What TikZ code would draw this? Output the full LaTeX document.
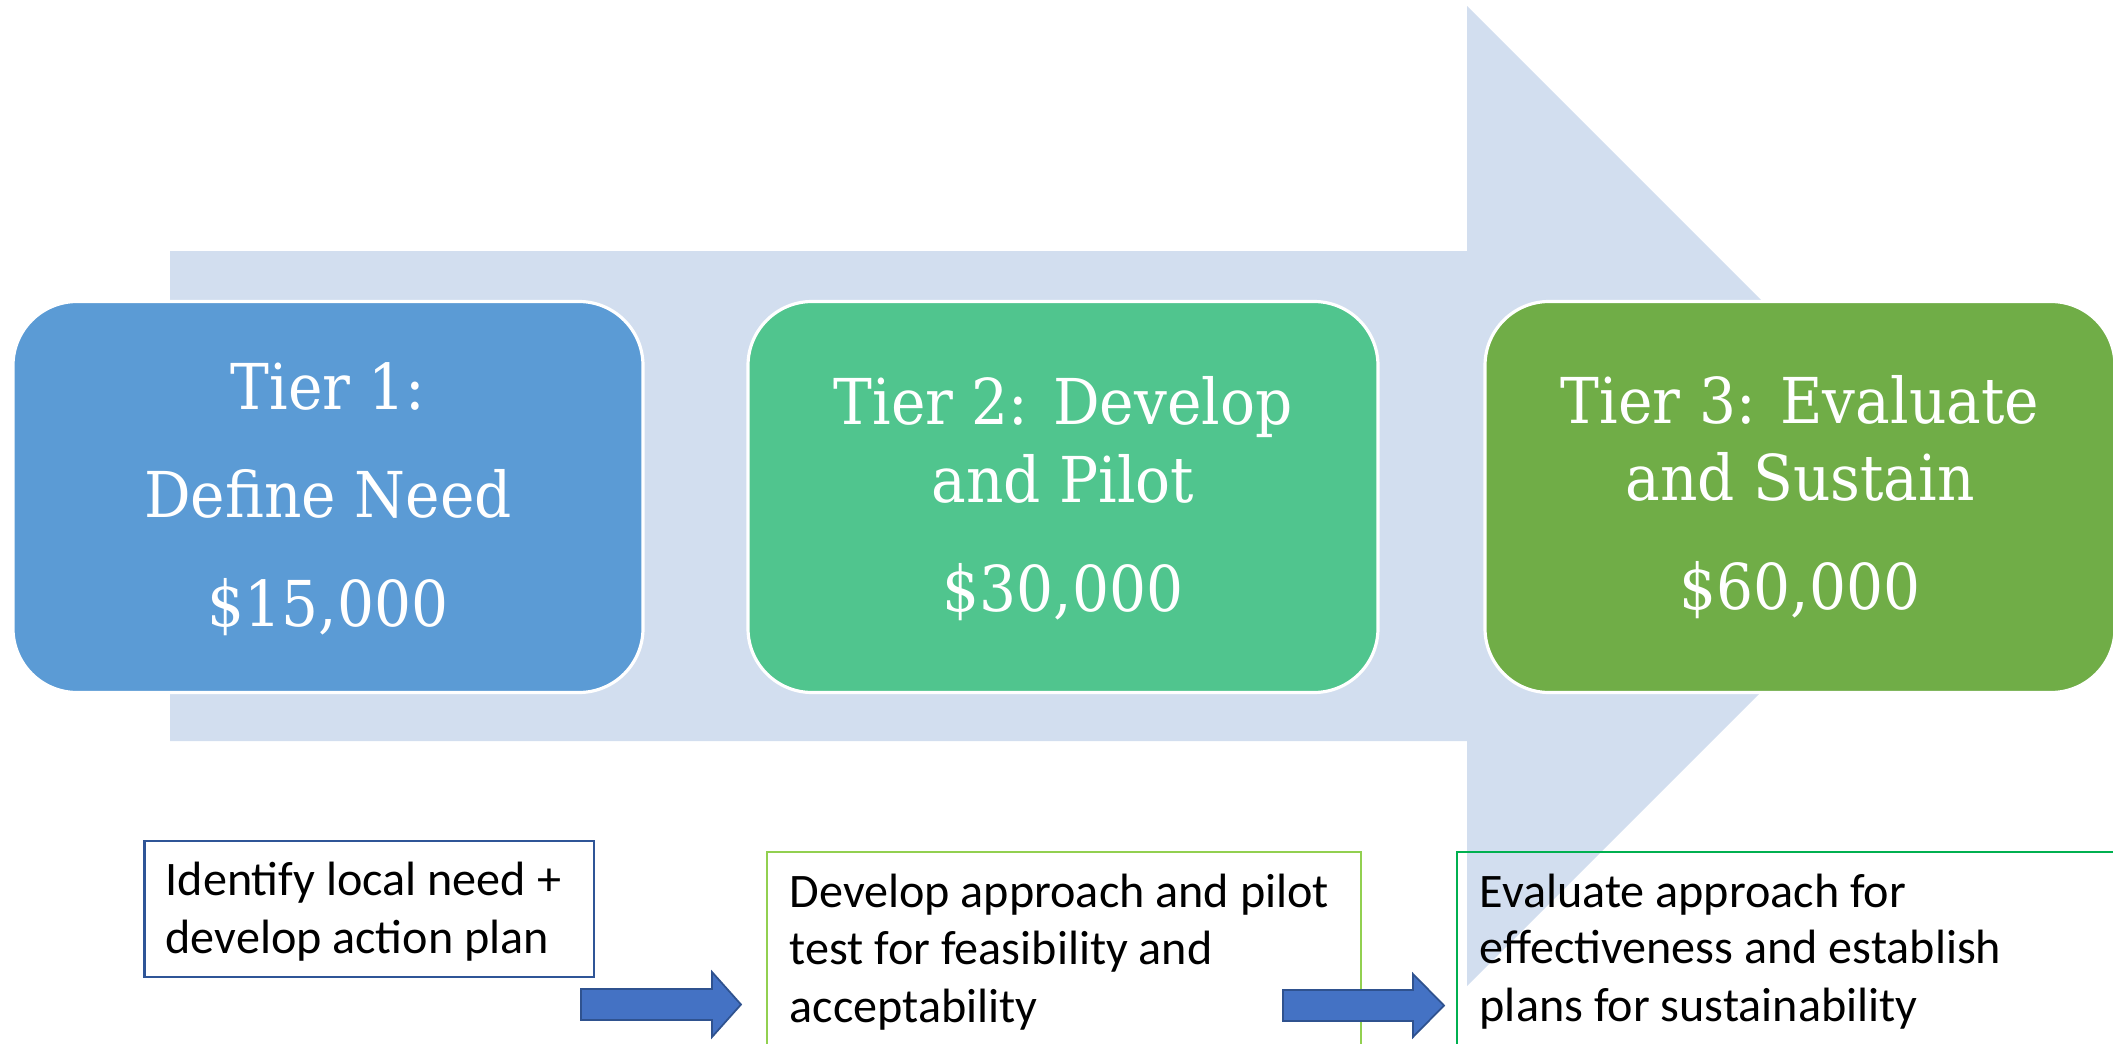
\documentclass[tikz,border=0pt]{standalone}
\usepackage{fontspec}
\newfontfamily\tierfont[FakeStretch=0.92]{DejaVu Serif}
\newfontfamily\bodyfont{Carlito}
\definecolor{bigarrow}{HTML}{D2DEEF}
\definecolor{tierA}{HTML}{5B9BD5}
\definecolor{tierB}{HTML}{50C58E}
\definecolor{tierC}{HTML}{70AD47}
\definecolor{smallarrow}{HTML}{4472C4}
\definecolor{smallarrowline}{HTML}{2F528F}
\definecolor{edgeA}{HTML}{2F5597}
\definecolor{edgeB}{HTML}{92D050}
\definecolor{edgeC}{HTML}{00B050}
\tikzset{
  tierbox/.style={draw=white, line width=0.9pt, rounded corners=6.4mm,
    minimum width=63.0mm, minimum height=39.1mm, inner sep=0pt, outer sep=0pt},
  tiertext/.style={text=white, anchor=base, inner sep=0pt,
    font=\tierfont\fontsize{18}{21}\selectfont},
  notebox/.style={line width=0.6pt, inner sep=0pt, outer sep=0pt, anchor=north west},
  notetext/.style={text=black, anchor=base west, inner sep=0pt,
    font=\bodyfont\fontsize{13.7}{16.5}\selectfont},
  smallarr/.style={fill=smallarrow, draw=smallarrowline, line width=0.5pt}
}
\begin{document}
\begin{tikzpicture}[x=0.1mm, y=-0.1mm]
\useasboundingbox (0,0) rectangle (2113,1044);
\clip (0,0) rectangle (2113,1044);
% big background arrow
\fill[bigarrow] (170,251) -- (1467,251) -- (1467,6) -- (1957,496) -- (1467,986) -- (1467,741) -- (170,741) -- cycle;
% tier boxes
\node[tierbox, fill=tierA] (b1) at (328,497) {};
\node[tierbox, fill=tierB] (b2) at (1063,497) {};
\node[tierbox, fill=tierC] (b3) at (1800,497) {};
\node[tiertext] (b1a) at (328,409) {Tier 1:};
\node[tiertext] (b1b) at (328,517) {Define Need};
\node[tiertext] (b1c) at (328,626) {\$15,000};
\node[tiertext] (b2a) at (1063,424) {Tier 2: Develop};
\node[tiertext] (b2b) at (1063,502) {and Pilot};
\node[tiertext] (b2c) at (1063,611) {\$30,000};
\node[tiertext] (b3a) at (1800,423) {Tier 3: Evaluate};
\node[tiertext] (b3b) at (1800,500) {and Sustain};
\node[tiertext] (b3c) at (1800,609) {\$60,000};
% note boxes
\node[notebox, draw=edgeA, minimum width=44.95mm, minimum height=13.6mm] (n1) at (144.5,841) {};
\node[notebox, draw=edgeB, minimum width=59.4mm, minimum height=25mm] (n2) at (767,852) {};
\node[notebox, draw=edgeC, minimum width=70mm, minimum height=25mm] (n3) at (1457,852) {};
\node[notetext] (n1a) at (165,895) {Identify local need +};
\node[notetext] (n1b) at (165,953) {develop action plan};
\node[notetext] (n2a) at (789,907) {Develop approach and pilot};
\node[notetext] (n2b) at (789,964) {test for feasibility and};
\node[notetext] (n2c) at (789,1022) {acceptability};
\node[notetext] (n3a) at (1479,907) {Evaluate approach for};
\node[notetext] (n3b) at (1479,963) {effectiveness and establish};
\node[notetext] (n3c) at (1479,1021) {plans for sustainability};
% small arrows
\draw[smallarr] (581,989) -- (712,989) -- (712,972) -- (741,1004.5) -- (712,1037) -- (712,1020) -- (581,1020) -- cycle;
\draw[smallarr] (1283,990) -- (1413,990) -- (1413,974) -- (1444,1005.5) -- (1413,1037) -- (1413,1021) -- (1283,1021) -- cycle;
\end{tikzpicture}
\end{document}
